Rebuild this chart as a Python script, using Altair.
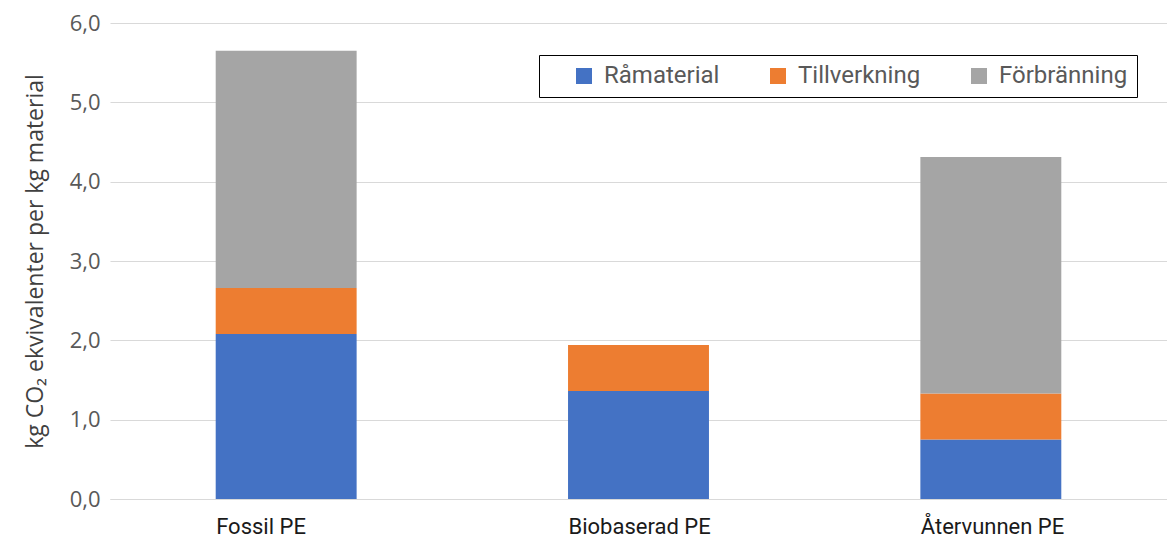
import altair as alt
import pandas as pd

categories = ["Fossil PE", "Biobaserad PE", "Återvunnen PE"]
series = ["Råmaterial", "Tillverkning", "Förbränning"]
ramaterial = [2.08, 1.36, 0.75]
tillverkning = [0.58, 0.58, 0.58]
forbranning = [2.99, 0.0, 2.98]
colors = ["#4472C4", "#ED7D31", "#A5A5A5"]

rows = []
for i, c in enumerate(categories):
    for j, (s, vals) in enumerate(zip(series, [ramaterial, tillverkning, forbranning])):
        rows.append({"kategori": c, "serie": s, "varde": vals[i], "ordning": j})
df = pd.DataFrame(rows)

chart = alt.Chart(df).mark_bar().encode(
    x=alt.X("kategori:N", sort=categories, title=None,
            scale=alt.Scale(paddingInner=0.6, paddingOuter=0.3),
            axis=alt.Axis(labelAngle=0, labelFont="Roboto", labelFontSize=22,
                          labelColor="#1a1a1a", labelPadding=17, ticks=False,
                          labelAlign="left", labelOffset=-70,
                          domainColor="#d9d9d9", domainWidth=1)),
    y=alt.Y("varde:Q", title="kg CO₂ ekvivalenter per kg material",
            stack="zero",
            scale=alt.Scale(domain=[0, 6], nice=False),
            axis=alt.Axis(values=[0, 1, 2, 3, 4, 5, 6],
                          labelExpr="replace(format(datum.value, '.1f'), '.', ',')",
                          labelFont="Open Sans", labelFontSize=22, labelColor="#595959",
                          labelPadding=10, ticks=False, domain=False,
                          gridColor="#d9d9d9", gridWidth=1,
                          titleFont="Open Sans", titleFontSize=23, titleFontWeight="normal",
                          titleColor="#404040", titlePadding=22)),
    color=alt.Color("serie:N", sort=series,
                    scale=alt.Scale(domain=series, range=colors),
                    legend=alt.Legend(title=None, orient="none", direction="horizontal",
                                      legendX=429, legendY=32,
                                      symbolType="square", symbolSize=256,
                                      symbolStrokeWidth=0, symbolOpacity=1,
                                      symbolOffset=24,
                                      labelFont="Roboto", labelFontSize=24,
                                      labelColor="#595959", columnPadding=22,
                                      labelOffset=8,
                                      strokeColor="black", padding=9,
                                      fillColor="white")),
    order=alt.Order("ordning:Q", sort="ascending"),
).properties(
    width=1057, height=476,
    autosize=alt.AutoSizeParams(type="none"),
    padding={"left": 102, "top": 15, "right": 0, "bottom": 41},
).configure_view(stroke=None)

chart.save("out.html", embed_options={"renderer": "svg", "actions": False})
